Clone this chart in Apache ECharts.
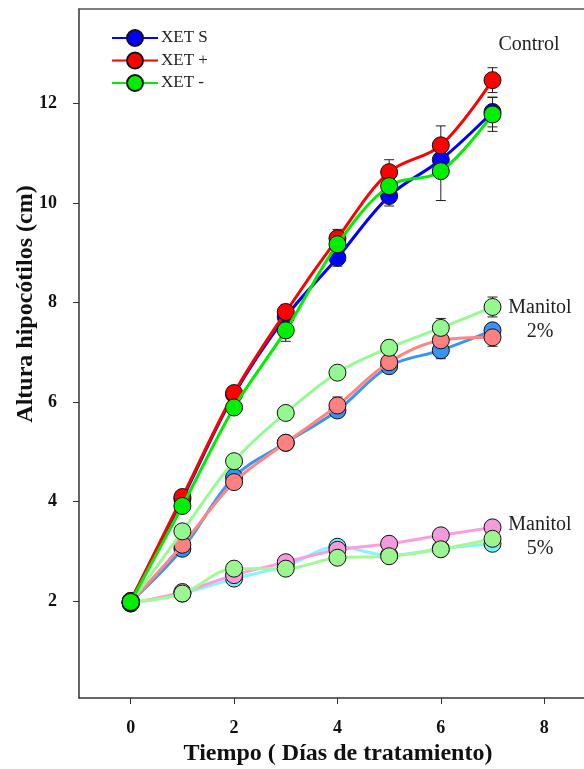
<!DOCTYPE html>
<html>
<head>
<meta charset="utf-8">
<script src="https://cdn.jsdelivr.net/npm/echarts@6/dist/echarts.min.js"></script>
<style>
  html, body { margin: 0; padding: 0; background: #fff; }
  #chart { width: 584px; height: 769px; }
</style>
</head>
<body>
<div id="chart"></div>
<script>
// dias de tratamiento
const dias = [0, 1, 2, 3, 4, 5, 6, 7];
const xTicks = [0, 2, 4, 6, 8];
const yTicks = [2, 4, 6, 8, 10, 12];

// Control
const ctrlS     = [2.00, 4.05, 6.15, 7.71, 8.90, 10.14, 10.87, 11.83];
const ctrlMas   = [2.00, 4.09, 6.18, 7.81, 9.29, 10.62, 11.16, 12.47];
const ctrlMenos = [1.98, 3.91, 5.89, 7.44, 9.17, 10.34, 10.64, 11.78];
const errCtrlS     = [0, 0.05, 0.10, 0.12, 0.17, 0.20, 0.20, 0.30];
const errCtrlMas   = [0, 0.05, 0.10, 0.15, 0.18, 0.25, 0.39, 0.25];
const errCtrlMenos = [0, 0.05, 0.10, 0.22, 0.15, 0.18, 0.59, 0.34];

// Manitol 2%
const man2S     = [1.98, 3.05, 4.49, 5.18, 5.83, 6.72, 7.04, 7.44];
const man2Mas   = [1.97, 3.13, 4.39, 5.18, 5.93, 6.80, 7.24, 7.30];
const man2Menos = [1.97, 3.40, 4.81, 5.78, 6.59, 7.09, 7.49, 7.91];
const errMan2S     = [0, 0.03, 0.05, 0.10, 0.10, 0.10, 0.17, 0.10];
const errMan2Mas   = [0, 0.03, 0.08, 0.10, 0.17, 0.10, 0.10, 0.18];
const errMan2Menos = [0, 0.03, 0.05, 0.08, 0.10, 0.15, 0.19, 0.20];

// Manitol 5%
const man5S     = [1.95, 2.15, 2.45, 2.70, 3.09, 2.92, 3.05, 3.15];
const man5Mas   = [1.95, 2.18, 2.52, 2.78, 3.03, 3.15, 3.32, 3.48];
const man5Menos = [1.97, 2.15, 2.65, 2.65, 2.87, 2.90, 3.04, 3.25];

const chart = echarts.init(document.getElementById('chart'));
const serif = "'Liberation Serif', 'DejaVu Serif', serif";

function lineSeries(name, values, color, lineColor, z) {
  return {
    name: name,
    type: 'line',
    data: dias.map((d, i) => [d, values[i]]),
    smooth: 0.35,
    symbol: 'circle',
    symbolSize: 17,
    z: z,
    lineStyle: { color: lineColor || color, width: 3 },
    itemStyle: { color: color, borderColor: '#111', borderWidth: 1 }
  };
}

function errSeries(values, errs, z) {
  const data = [];
  for (let i = 0; i < dias.length; i++) {
    if (errs[i] > 0) data.push([dias[i], values[i] - errs[i], values[i] + errs[i]]);
  }
  return {
    type: 'custom',
    z: z,
    silent: true,
    data: data,
    renderItem: function(params, api) {
      const lo = api.coord([api.value(0), api.value(1)]);
      const hi = api.coord([api.value(0), api.value(2)]);
      const w = 5;
      const st = { stroke: '#222', lineWidth: 1 };
      return {
        type: 'group',
        children: [
          { type: 'line', shape: { x1: lo[0], y1: lo[1], x2: hi[0], y2: hi[1] }, style: st },
          { type: 'line', shape: { x1: lo[0] - w, y1: lo[1], x2: lo[0] + w, y2: lo[1] }, style: st },
          { type: 'line', shape: { x1: hi[0] - w, y1: hi[1], x2: hi[0] + w, y2: hi[1] }, style: st }
        ]
      };
    }
  };
}

const option = {
  animation: false,
  backgroundColor: '#fff',
  grid: { left: 79, top: 9, bottom: 71, right: 0 },
  legend: {
    data: ['XET S', 'XET +', 'XET -'],
    orient: 'vertical',
    left: 106, top: 24,
    itemWidth: 46, itemHeight: 20, itemGap: 4.5,
    textStyle: { fontFamily: serif, fontSize: 17, color: '#222', padding: [0, 0, 0, -2] }
  },
  xAxis: [{
    type: 'value',
    min: -1, max: 8.77,
    axisLine: { onZero: false, lineStyle: { color: '#333', width: 1.5 } },
    axisTick: { show: true, inside: false, length: 6, customValues: xTicks, lineStyle: { color: '#333' } },
    axisLabel: {
      customValues: xTicks, margin: 21,
      fontFamily: serif, fontSize: 18, fontWeight: 'bold', color: '#111'
    },
    splitLine: { show: false }
  }, {
    type: 'value',
    position: 'top',
    min: -1, max: 8.77,
    axisLine: { show: true, onZero: false, lineStyle: { color: '#555', width: 1.5 } },
    axisTick: { show: false },
    axisLabel: { show: false },
    splitLine: { show: false }
  }],
  yAxis: {
    type: 'value',
    min: 0.05, max: 13.9,
    axisLine: { show: true, onZero: false, lineStyle: { color: '#333', width: 1.5 } },
    axisTick: { show: true, inside: false, length: 6, customValues: yTicks, lineStyle: { color: '#333' } },
    axisLabel: {
      customValues: yTicks, margin: 22,
      fontFamily: serif, fontSize: 18, fontWeight: 'bold', color: '#111'
    },
    splitLine: { show: false }
  },
  graphic: [
    {
      type: 'text', x: 338, y: 754,
      style: { text: 'Tiempo ( Días de tratamiento)', align: 'center', verticalAlign: 'middle',
        font: "bold 24px 'Liberation Serif', serif", fill: '#111' }
    },
    {
      type: 'text', x: 26, y: 304, rotation: Math.PI / 2,
      style: { text: 'Altura hipocótilos (cm)', align: 'center', verticalAlign: 'middle',
        font: "bold 24px 'Liberation Serif', serif", fill: '#111' }
    },
    {
      type: 'text', x: 529, y: 45,
      style: { text: 'Control', align: 'center', verticalAlign: 'middle',
        font: "20px 'Liberation Serif', serif", fill: '#222' }
    },
    {
      type: 'text', x: 540, y: 320,
      style: { text: 'Manitol\n2%', align: 'center', verticalAlign: 'middle', lineHeight: 24,
        font: "20px 'Liberation Serif', serif", fill: '#222' }
    },
    {
      type: 'text', x: 540, y: 537,
      style: { text: 'Manitol\n5%', align: 'center', verticalAlign: 'middle', lineHeight: 24,
        font: "20px 'Liberation Serif', serif", fill: '#222' }
    }
  ],
  series: [
    errSeries(man2S, errMan2S, 1),
    errSeries(man2Mas, errMan2Mas, 1),
    errSeries(man2Menos, errMan2Menos, 1),
    errSeries(ctrlS, errCtrlS, 1),
    errSeries(ctrlMas, errCtrlMas, 1),
    errSeries(ctrlMenos, errCtrlMenos, 1),
    lineSeries('M5 S', man5S, '#77f0f8', '#88f4fa', 2),
    lineSeries('M5 +', man5Mas, '#f59adb', '#f7a0dd', 3),
    lineSeries('M5 -', man5Menos, '#9cf590', '#a4f898', 4),
    lineSeries('M2 S', man2S, '#3594f5', '#3a96f5', 5),
    lineSeries('M2 +', man2Mas, '#ff8080', '#ff8585', 6),
    lineSeries('M2 -', man2Menos, '#94f890', '#98fa94', 7),
    lineSeries('XET S', ctrlS, '#0000ff', '#0000ff', 9),
    lineSeries('XET +', ctrlMas, '#ff0000', '#ff0000', 10),
    lineSeries('XET -', ctrlMenos, '#00ee00', '#00ee00', 11)
  ]
};

chart.setOption(option);
</script>
</body>
</html>
